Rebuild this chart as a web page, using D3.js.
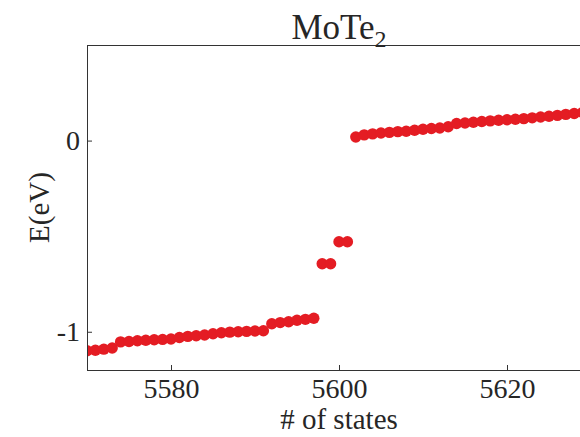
<!DOCTYPE html>
<html>
<head>
<meta charset="utf-8">
<script src="https://cdn.jsdelivr.net/npm/d3@7/dist/d3.min.js"></script>
<style>
  body { margin: 0; background: #fff; }
  text { font-family: "Liberation Serif", "Times New Roman", serif; fill: #262626; }
</style>
</head>
<body>
<div id="chart"></div>
<script>
// state index (x) and energy in eV (y)
const states = [5570, 5571, 5572, 5573, 5574, 5575, 5576, 5577, 5578, 5579,
    5580, 5581, 5582, 5583, 5584, 5585, 5586, 5587, 5588, 5589,
    5590, 5591, 5592, 5593, 5594, 5595, 5596, 5597, 5598, 5599,
    5600, 5601, 5602, 5603, 5604, 5605, 5606, 5607, 5608, 5609,
    5610, 5611, 5612, 5613, 5614, 5615, 5616, 5617, 5618, 5619,
    5620, 5621, 5622, 5623, 5624, 5625, 5626, 5627, 5628, 5629, 5630];
const energies = [-1.099, -1.097, -1.091, -1.085, -1.053, -1.051, -1.047, -1.044, -1.042, -1.040,
    -1.038, -1.030, -1.024, -1.021, -1.017, -1.010, -1.005, -1.002, -1.000, -0.998,
    -0.996, -0.995, -0.958, -0.952, -0.948, -0.940, -0.935, -0.929, -0.644, -0.644,
    -0.529, -0.529, 0.019, 0.030, 0.035, 0.040, 0.043, 0.047, 0.049, 0.054,
    0.059, 0.063, 0.066, 0.072, 0.089, 0.092, 0.096, 0.100, 0.103, 0.106,
    0.109, 0.112, 0.115, 0.119, 0.123, 0.127, 0.132, 0.137, 0.142, 0.147, 0.152];
const xTicks = [5580, 5600, 5620];
const yTicks = [-1, 0];

const width = 580, height = 437;
const margins = { top: 45, right: -11, bottom: 67, left: 87 };
const visWidth = width - margins.left - margins.right;
const visHeight = height - margins.top - margins.bottom;

const svg = d3.select("#chart").append("svg").attr("width", width).attr("height", height);
const viewport = svg.append("g").attr("transform", "translate(" + margins.left + "," + margins.top + ")");

const x = d3.scaleLinear().domain([5570, 5630]).range([0, visWidth]);
const y = d3.scaleLinear().domain([-1.2, 0.5]).range([visHeight, 0]);

svg.append("defs").append("clipPath").attr("id", "clip")
    .append("rect").attr("width", visWidth).attr("height", visHeight);

// points
viewport.append("g").attr("clip-path", "url(#clip)")
    .selectAll("circle")
    .data(states.map((s, i) => ({ s: s, e: energies[i] })))
    .enter().append("circle")
    .attr("cx", d => x(d.s))
    .attr("cy", d => y(d.e))
    .attr("r", 5.7)
    .attr("fill", "#e41c23");

// axes, ticks pointing inward
const xAxis = viewport.append("g").attr("transform", "translate(0," + visHeight + ")")
    .call(d3.axisBottom(x).tickValues(xTicks).tickFormat(d => String(d))
        .tickSizeInner(-5).tickSizeOuter(0).tickPadding(8));
const yAxis = viewport.append("g")
    .call(d3.axisLeft(y).tickValues(yTicks).tickFormat(d => String(d))
        .tickSizeInner(-5).tickSizeOuter(0).tickPadding(7));

[xAxis, yAxis].forEach(a => {
    a.select(".domain").remove();
    a.selectAll("line").attr("stroke", "#333");
    a.selectAll("text").style("font-size", "28px").attr("fill", "#262626")
        .style("font-family", "'Liberation Serif', 'Times New Roman', serif");
});

// box
viewport.append("rect")
    .attr("x", 0.5).attr("y", 0.5)
    .attr("width", visWidth).attr("height", visHeight)
    .attr("fill", "none").attr("stroke", "#333").attr("stroke-width", 1);

// labels
svg.append("text")
    .attr("x", margins.left + visWidth / 2).attr("y", 429)
    .attr("text-anchor", "middle").style("font-size", "29px")
    .text("# of states");

svg.append("text")
    .attr("transform", "translate(49," + (margins.top + y(-0.35)) + ") rotate(-90)")
    .attr("text-anchor", "middle").style("font-size", "29px")
    .text("E(eV)");

const title = svg.append("text")
    .attr("x", margins.left + visWidth / 2).attr("y", 39)
    .attr("text-anchor", "middle").style("font-size", "35px");
title.append("tspan").text("MoTe");
title.append("tspan").attr("dy", 8).style("font-size", "24px").text("2");
</script>
</body>
</html>
